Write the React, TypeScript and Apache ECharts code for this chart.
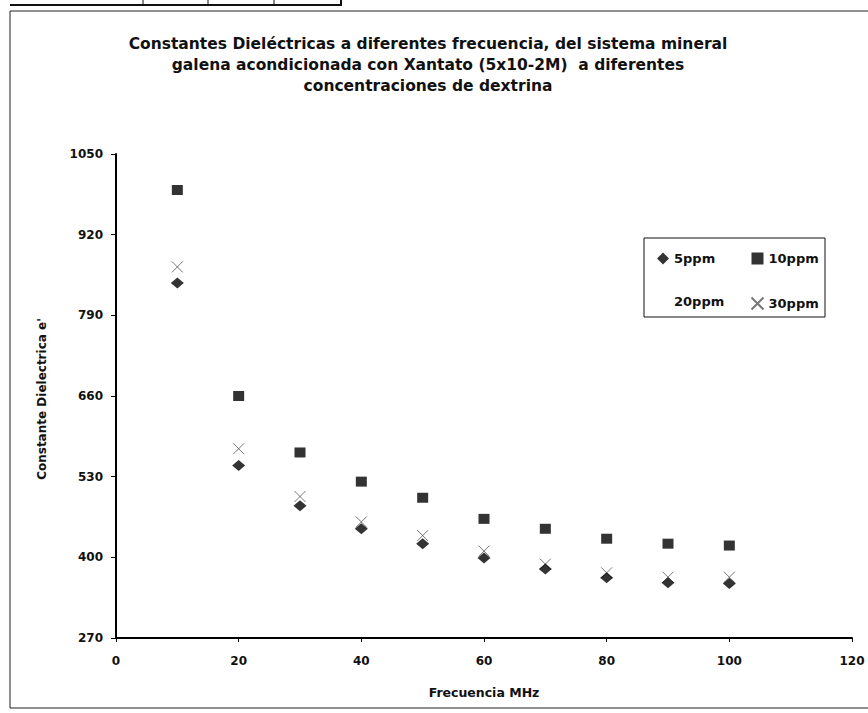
import React, { useEffect, useRef } from "react";
import * as echarts from "echarts";

const frequencies = [10, 20, 30, 40, 50, 60, 70, 80, 90, 100];
const ppm5 = [842, 548, 483, 446, 422, 399, 381, 367, 359, 358];
const ppm10 = [992, 660, 569, 522, 496, 462, 446, 430, 422, 419];
const ppm20: number[] = [];
const ppm30 = [868, 575, 498, 457, 435, 410, 389, 375, 368, 368];
const yTicks = [270, 400, 530, 660, 790, 920, 1050];
const titleLines = [
  "Constantes Dieléctricas a diferentes frecuencia, del sistema mineral",
  "galena acondicionada con Xantato (5x10-2M)  a diferentes",
  "concentraciones de dextrina",
];
const yAxisTitle = "Constante Dielectrica e'";
const xAxisTitle = "Frecuencia MHz";

const FONT = "'DejaVu Sans', Verdana, sans-serif";
const CROSS = "path://M0,0L10,10M10,0L0,10";

function pairs(vals: number[]) {
  return vals.map((v, i) => [frequencies[i], v]);
}

export default function App() {
  const ref = useRef<HTMLDivElement>(null);
  useEffect(() => {
    if (!ref.current) return;
    const chart = echarts.init(ref.current, null, { renderer: "svg" });
    const legendText = { fontFamily: FONT, fontSize: 13, fontWeight: "bold", color: "#111", lineHeight: 12 };
    chart.setOption({
      animation: false,
      backgroundColor: "#fff",
      title: {
        text: titleLines.join("\n"),
        left: 423,
        textAlign: "center",
        top: 28,
        textStyle: {
          fontFamily: FONT,
          fontSize: 15.5,
          fontWeight: "bold",
          lineHeight: 21,
          color: "#111",
        },
      },
      legend: [
        {
          left: 657,
          top: 252,
          orient: "vertical",
          itemWidth: 12,
          itemHeight: 12,
          itemGap: 30,
          padding: 0,
          textStyle: legendText,
          data: [{ name: "5ppm" }, { name: "20ppm", icon: "none" }],
        },
        {
          left: 749,
          top: 252,
          orient: "vertical",
          itemWidth: 12,
          itemHeight: 12,
          itemGap: 30,
          padding: 0,
          textStyle: legendText,
          data: [{ name: "10ppm" }, { name: "30ppm" }],
        },
      ],
      grid: { left: 116, right: 16, top: 154, bottom: 75, containLabel: false },
      xAxis: {
        type: "value",
        min: 0,
        max: 120,
        interval: 20,
        name: xAxisTitle,
        nameLocation: "middle",
        nameGap: 48,
        nameTextStyle: { fontFamily: FONT, fontSize: 12.5, fontWeight: "bold", color: "#111" },
        axisLine: { show: true, onZero: false, lineStyle: { color: "#000", width: 2 } },
        axisTick: { show: true, inside: false, length: 4, lineStyle: { color: "#000" } },
        axisLabel: { fontFamily: FONT, fontSize: 12, fontWeight: "bold", color: "#111", margin: 17 },
        splitLine: { show: false },
      },
      yAxis: {
        type: "value",
        min: 270,
        max: 1050,
        axisLine: { show: true, onZero: false, lineStyle: { color: "#000", width: 2 } },
        axisTick: { show: true, inside: false, length: 5, customValues: yTicks, lineStyle: { color: "#000" } },
        axisLabel: {
          fontFamily: FONT,
          fontSize: 12,
          fontWeight: "bold",
          color: "#111",
          margin: 13,
          customValues: yTicks,
          formatter: (v: number) => String(v),
        },
        splitLine: { show: false },
      },
      series: [
        {
          name: "5ppm",
          type: "scatter",
          symbol: "diamond",
          symbolSize: [13, 11],
          itemStyle: { color: "#000" },
          data: pairs(ppm5),
          z: 3,
        },
        {
          name: "10ppm",
          type: "scatter",
          symbol: "rect",
          symbolSize: [11, 10],
          itemStyle: { color: "#000" },
          data: pairs(ppm10),
        },
        {
          name: "20ppm",
          type: "scatter",
          symbol: "none",
          itemStyle: { color: "#fff" },
          data: pairs(ppm20),
        },
        {
          name: "30ppm",
          type: "scatter",
          symbol: CROSS,
          symbolSize: 11,
          itemStyle: { color: "none", borderColor: "#555", borderWidth: 1 },
          data: pairs(ppm30),
          z: 2,
        },
      ],
      graphic: [
        { type: "rect", shape: { x: 10, y: 11, width: 870, height: 697 }, style: { fill: "none", stroke: "#222", lineWidth: 1 }, silent: true },
        { type: "rect", shape: { x: 644, y: 238, width: 181, height: 79 }, style: { fill: "none", stroke: "#111", lineWidth: 1 }, silent: true },
        {
          type: "text",
          x: 42,
          y: 399,
          rotation: Math.PI / 2,
          style: {
            text: yAxisTitle,
            fontFamily: FONT,
            fontSize: 12,
            fontWeight: "bold",
            fill: "#111",
            align: "center",
            verticalAlign: "middle",
          },
          silent: true,
        },
        { type: "line", shape: { x1: 10, y1: 5, x2: 342, y2: 5 }, style: { stroke: "#111", lineWidth: 2 }, silent: true },
        { type: "line", shape: { x1: 341, y1: 0, x2: 341, y2: 6 }, style: { stroke: "#111", lineWidth: 2 }, silent: true },
        { type: "line", shape: { x1: 143, y1: 0, x2: 143, y2: 6 }, style: { stroke: "#111", lineWidth: 1 }, silent: true },
        { type: "line", shape: { x1: 208, y1: 0, x2: 208, y2: 6 }, style: { stroke: "#111", lineWidth: 1 }, silent: true },
        { type: "line", shape: { x1: 274, y1: 0, x2: 274, y2: 6 }, style: { stroke: "#111", lineWidth: 1 }, silent: true },
      ],
    });
    return () => chart.dispose();
  }, []);
  return <div ref={ref} style={{ width: 868, height: 713, position: "absolute", left: 0, top: 0 }} />;
}
